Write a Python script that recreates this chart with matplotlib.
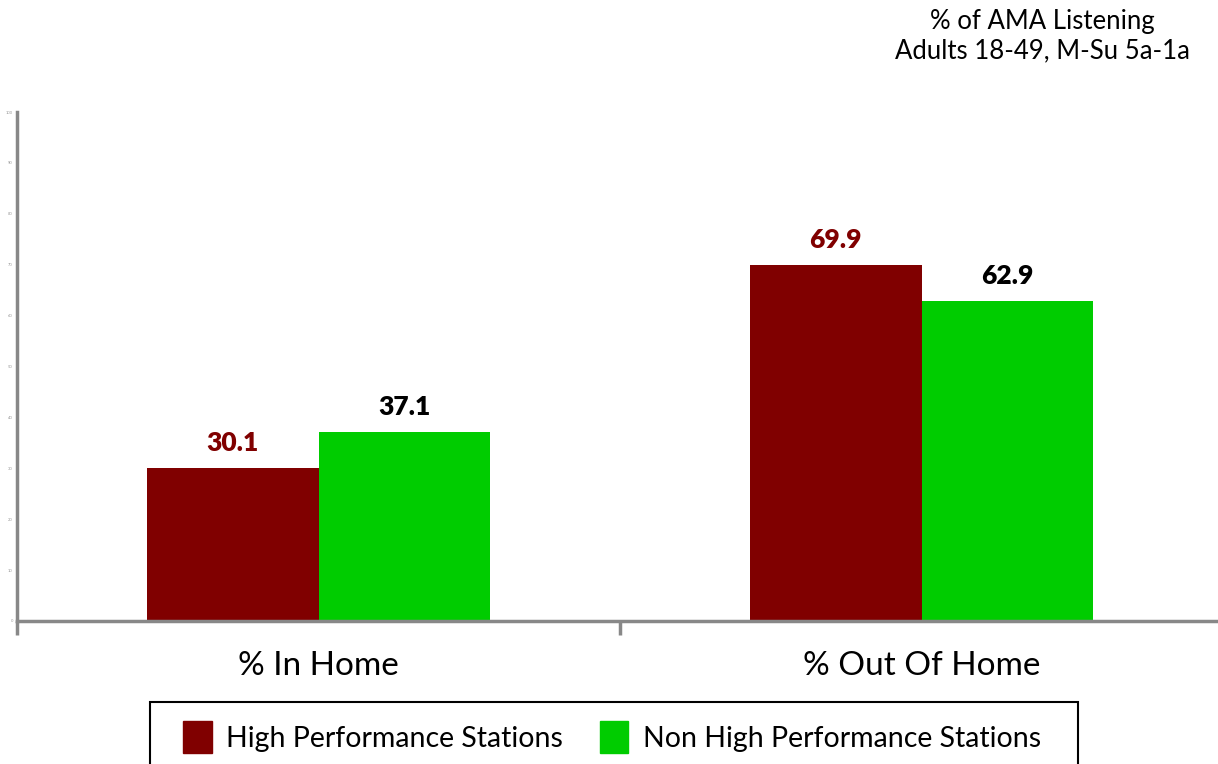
import matplotlib.pyplot as plt
from matplotlib.patches import Rectangle, Patch

categories = ['% In Home', '% Out Of Home']
series_names = ['High Performance Stations', 'Non High Performance Stations']
high_perf = [30.1, 69.9]
non_high_perf = [37.1, 62.9]
colors = ['#800000', '#00CC00']
label_colors = ['#800000', '#000000']

plt.rcParams['font.family'] = ['Lato', 'DejaVu Sans']

fig = plt.figure(figsize=(12.18, 7.64), dpi=100)
W, H = 1218, 764
ax = fig.add_axes([17 / W, 1 - 621 / H, 2 * 603 / W, 509 / H])

x = list(range(len(categories)))
bw = 0.285
for i, (vals, c, lc) in enumerate(zip([high_perf, non_high_perf], colors, label_colors)):
    pos = [xi + (i - 0.5) * bw for xi in x]
    ax.bar(pos, vals, width=bw, color=c, label=series_names[i], zorder=2)
    for p, v in zip(pos, vals):
        ax.text(p, v + 2.5, f'{v:.1f}', ha='center', va='bottom',
                fontsize=19, fontweight='heavy', color=lc)

ax.set_xlim(-0.5, 1.5)
ax.set_ylim(0, 100)
ax.set_yticks(range(0, 101, 10))
ax.tick_params(axis='y', labelsize=3, colors='#999999', length=0, pad=3)
ax.set_xticks([-0.5, 0.5, 1.5])
ax.set_xticklabels([])
ax.tick_params(axis='x', length=10, width=2.5, color='#888888', direction='out')
for xi, cat in zip(x, categories):
    ax.text(xi, -5.8, cat, ha='center', va='top', fontsize=24, transform=ax.transData)

for s in ['top', 'right']:
    ax.spines[s].set_visible(False)
for s in ['left', 'bottom']:
    ax.spines[s].set_color('#888888')
    ax.spines[s].set_linewidth(2.5)

fig.text(1042 / W, 1 - 36 / H, '% of AMA Listening\nAdults 18-49, M-Su 5a-1a',
         ha='center', va='center', fontsize=18.5, linespacing=1.25)

# legend frame
fig.patches.append(Rectangle((150 / W, -0.05), 928 / W, 0.05 + (764 - 702) / H,
                             transform=fig.transFigure, fill=False,
                             edgecolor='black', linewidth=1.5))
handles = [Patch(facecolor=c, edgecolor=c) for c in colors]
fig.legend(handles, series_names, loc='center', bbox_to_anchor=(612 / W, 1 - 737 / H),
           ncol=2, frameon=False, fontsize=20.5, handlelength=1.0, handleheight=1.3,
           handletextpad=0.5, columnspacing=1.3)

fig.savefig('out.png', dpi=100)
